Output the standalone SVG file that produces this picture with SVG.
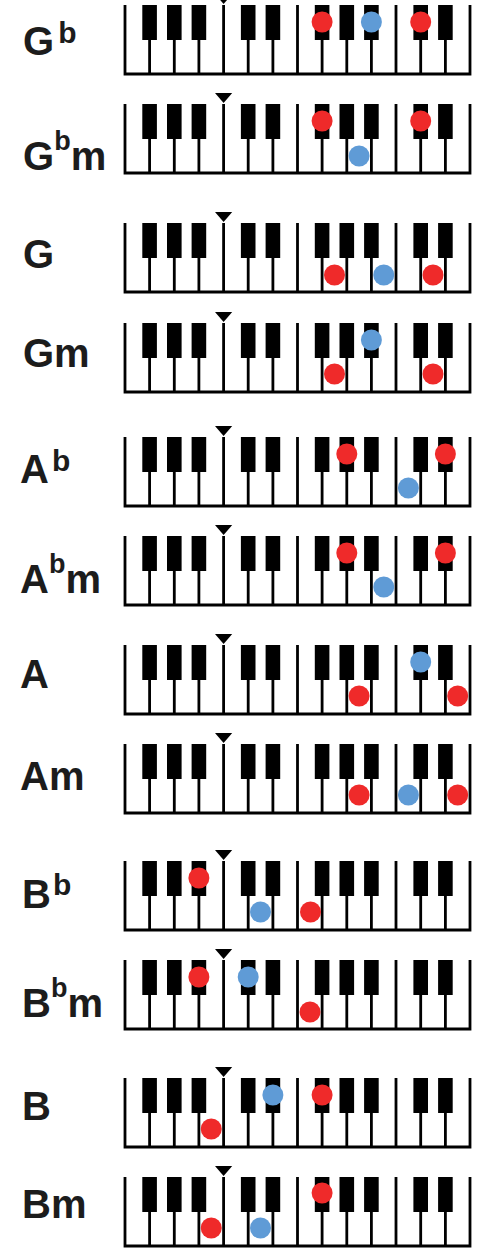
<svg xmlns="http://www.w3.org/2000/svg" xmlns:xlink="http://www.w3.org/1999/xlink" width="477" height="1249" viewBox="0 0 477 1249">
<style>
.kl{stroke:#000;stroke-width:2.8;fill:none}
.bk{fill:#000}
.r{fill:#ef2a2a}
.b{fill:#5f9bd6}
.lbl{font-family:"Liberation Sans",Arial,sans-serif;font-weight:bold;font-size:40px;fill:#1c1c1c}
.s1{font-size:30px}
.s2{font-size:27px}
.m{font-size:40px}
</style>
<defs>
<g id="kb">
<path class="kl" d="M125,0V69M470,0V69M149.6,0V69M174.3,0V69M198.9,0V69M223.6,0V69M248.2,0V69M272.9,0V69M297.5,0V69M322.1,0V69M346.8,0V69M371.4,0V69M396,0V69M420.7,0V69M445.4,0V69M123.6,69H471.4"/>
<g class="bk">
<rect x="142.3" y="0" width="14.6" height="35"/>
<rect x="167" y="0" width="14.6" height="35"/>
<rect x="191.6" y="0" width="14.6" height="35"/>
<rect x="240.9" y="0" width="14.6" height="35"/>
<rect x="265.6" y="0" width="14.6" height="35"/>
<rect x="314.8" y="0" width="14.6" height="35"/>
<rect x="339.5" y="0" width="14.6" height="35"/>
<rect x="364.1" y="0" width="14.6" height="35"/>
<rect x="413.4" y="0" width="14.6" height="35"/>
<rect x="438.1" y="0" width="14.6" height="35"/>
<polygon points="215,-11 232.2,-11 223.6,-1"/>
</g>
</g>
</defs>
<g id="row-Gb">
<use xlink:href="#kb" href="#kb" transform="translate(0,5)"/>
<text class="lbl" x="23" y="55">G<tspan class="s1" dx="4" dy="-12">b</tspan></text>
<circle class="r" cx="322.1" cy="22" r="10.5"/><circle class="b" cx="371.4" cy="22" r="10.5"/><circle class="r" cx="420.7" cy="22" r="10.5"/>
</g>
<g id="row-Gbm">
<use xlink:href="#kb" href="#kb" transform="translate(0,104)"/>
<text class="lbl" x="23" y="170">G<tspan class="s2" dy="-20">b</tspan><tspan class="m" dy="20">m</tspan></text>
<circle class="r" cx="322.1" cy="121" r="10.5"/><circle class="b" cx="359.1" cy="156" r="10.5"/><circle class="r" cx="420.7" cy="121" r="10.5"/>
</g>
<g id="row-G">
<use xlink:href="#kb" href="#kb" transform="translate(0,223)"/>
<text class="lbl" x="23" y="268">G</text>
<circle class="r" cx="334.5" cy="275" r="10.5"/><circle class="b" cx="383.75" cy="275" r="10.5"/><circle class="r" cx="433" cy="275" r="10.5"/>
</g>
<g id="row-Gm">
<use xlink:href="#kb" href="#kb" transform="translate(0,323)"/>
<text class="lbl" x="23" y="367">Gm</text>
<circle class="r" cx="334.5" cy="374" r="10.5"/><circle class="b" cx="371.4" cy="340" r="10.5"/><circle class="r" cx="433" cy="374" r="10.5"/>
</g>
<g id="row-Ab">
<use xlink:href="#kb" href="#kb" transform="translate(0,437)"/>
<text class="lbl" x="20" y="483">A<tspan class="s1" dx="3" dy="-12">b</tspan></text>
<circle class="r" cx="346.8" cy="454" r="10.5"/><circle class="b" cx="408.4" cy="488" r="10.5"/><circle class="r" cx="445.4" cy="454" r="10.5"/>
</g>
<g id="row-Abm">
<use xlink:href="#kb" href="#kb" transform="translate(0,536)"/>
<text class="lbl" x="20" y="593">A<tspan class="s2" dy="-20">b</tspan><tspan class="m" dy="20">m</tspan></text>
<circle class="r" cx="346.8" cy="553" r="10.5"/><circle class="b" cx="383.75" cy="587" r="10.5"/><circle class="r" cx="445.4" cy="553" r="10.5"/>
</g>
<g id="row-A">
<use xlink:href="#kb" href="#kb" transform="translate(0,645)"/>
<text class="lbl" x="20" y="688">A</text>
<circle class="r" cx="359.1" cy="696" r="10.5"/><circle class="b" cx="420.7" cy="662" r="10.5"/><circle class="r" cx="457.7" cy="696" r="10.5"/>
</g>
<g id="row-Am">
<use xlink:href="#kb" href="#kb" transform="translate(0,744)"/>
<text class="lbl" x="20" y="790">Am</text>
<circle class="r" cx="359.1" cy="795" r="10.5"/><circle class="b" cx="408.4" cy="795" r="10.5"/><circle class="r" cx="457.7" cy="795" r="10.5"/>
</g>
<g id="row-Bb">
<use xlink:href="#kb" href="#kb" transform="translate(0,861)"/>
<text class="lbl" x="22" y="908">B<tspan class="s1" dx="2" dy="-13">b</tspan></text>
<circle class="r" cx="198.9" cy="878" r="10.5"/><circle class="b" cx="260.5" cy="912" r="10.5"/><circle class="r" cx="310.5" cy="912" r="10.5"/>
</g>
<g id="row-Bbm">
<use xlink:href="#kb" href="#kb" transform="translate(0,960)"/>
<text class="lbl" x="22" y="1017">B<tspan class="s2" dy="-20">b</tspan><tspan class="m" dy="20">m</tspan></text>
<circle class="r" cx="198.9" cy="977" r="10.5"/><circle class="b" cx="248.2" cy="977" r="10.5"/><circle class="r" cx="310" cy="1012" r="10.5"/>
</g>
<g id="row-B">
<use xlink:href="#kb" href="#kb" transform="translate(0,1078)"/>
<text class="lbl" x="22" y="1120">B</text>
<circle class="r" cx="211.25" cy="1129" r="10.5"/><circle class="b" cx="272.9" cy="1095" r="10.5"/><circle class="r" cx="322.1" cy="1095" r="10.5"/>
</g>
<g id="row-Bm">
<use xlink:href="#kb" href="#kb" transform="translate(0,1177)"/>
<text class="lbl" x="22" y="1218">Bm</text>
<circle class="r" cx="211.25" cy="1228" r="10.5"/><circle class="b" cx="260.5" cy="1228" r="10.5"/><circle class="r" cx="322.1" cy="1193" r="10.5"/>
</g>
<g id="connectors"/>
</svg>
